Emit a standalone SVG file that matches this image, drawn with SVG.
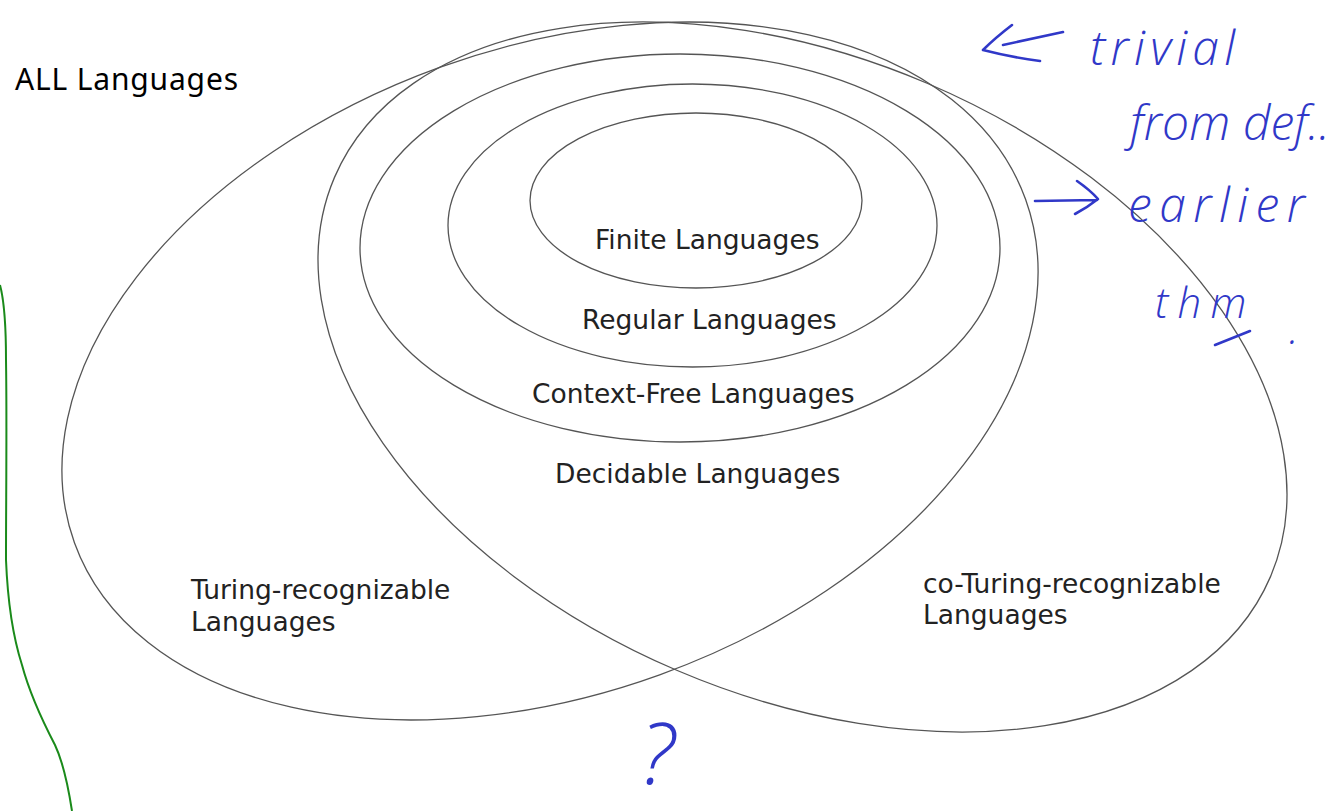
<svg xmlns="http://www.w3.org/2000/svg" width="1338" height="811" viewBox="0 0 1338 811">
<style>
.set{fill:none;stroke:#555;stroke-width:1.3}
.lbl{font-family:"DejaVu Sans",sans-serif;font-size:26.5px;fill:#222}
.ink{fill:none;stroke:#3038c8;stroke-width:2.6;stroke-linecap:round;stroke-linejoin:round}
.hand{font-family:"Open Sans","DejaVu Sans",sans-serif;font-style:italic;font-weight:300;fill:#3038c8}
</style>
<rect width="1338" height="811" fill="#fff"/>
<g id="all-languages">
<text x="15" y="90" font-family="Noto Sans, sans-serif" font-size="30" fill="#000" textLength="223">ALL Languages</text>
</g>
<g id="turing-recognizable">
<ellipse class="set" cx="550" cy="371" rx="505.6" ry="323" transform="rotate(-19.85 550 371)"/>
<text class="lbl" x="191" y="599">Turing-recognizable</text>
<text class="lbl" x="191" y="631">Languages</text>
</g>
<g id="co-turing-recognizable">
<ellipse class="set" cx="802.5" cy="377" rx="508.8" ry="319.1" transform="rotate(23.1 802.5 377)"/>
<text class="lbl" x="923" y="593">co-Turing-recognizable</text>
<text class="lbl" x="923" y="624">Languages</text>
</g>
<g id="decidable">
<text class="lbl" x="555" y="483">Decidable Languages</text>
</g>
<g id="context-free">
<ellipse class="set" cx="680" cy="248" rx="320" ry="194"/>
<text class="lbl" x="532" y="403">Context-Free Languages</text>
</g>
<g id="regular">
<ellipse class="set" cx="692.5" cy="225.5" rx="244.5" ry="141.5"/>
<text class="lbl" x="582" y="329">Regular Languages</text>
</g>
<g id="finite">
<ellipse class="set" cx="696" cy="200.5" rx="166" ry="87.5"/>
<text class="lbl" x="595" y="249">Finite Languages</text>
</g>
<g id="annotations">
<path class="ink" d="M1063 32 L1003 45 M1012 25 Q995 38 983 50 Q1010 57 1040 61"/>
<text class="hand" x="1090" y="65" font-size="48" textLength="145">trivial</text>
<text class="hand" x="1130" y="140" font-size="48" textLength="200">from def..</text>
<path class="ink" d="M1035 201 L1097 200 M1077 181 Q1090 190 1098 199 Q1088 207 1075 214"/>
<text class="hand" x="1128" y="222" font-size="48" textLength="177">earlier</text>
<text class="hand" x="1155" y="318" font-size="42" textLength="110">thm<tspan x="1289" y="344">.</tspan></text>
<path class="ink" d="M1215 345 L1250 331"/>
<text class="hand" x="640" y="784" font-size="84">?</text>
</g>
<g id="connectors">
<path d="M0 285 C4 300 6 320 6 360 C7 420 6 500 6 560 C8 610 14 640 22 665 C30 695 42 720 55 745 C63 762 68 785 72 811" fill="none" stroke="#1a8a1a" stroke-width="2"/>
</g>
</svg>
